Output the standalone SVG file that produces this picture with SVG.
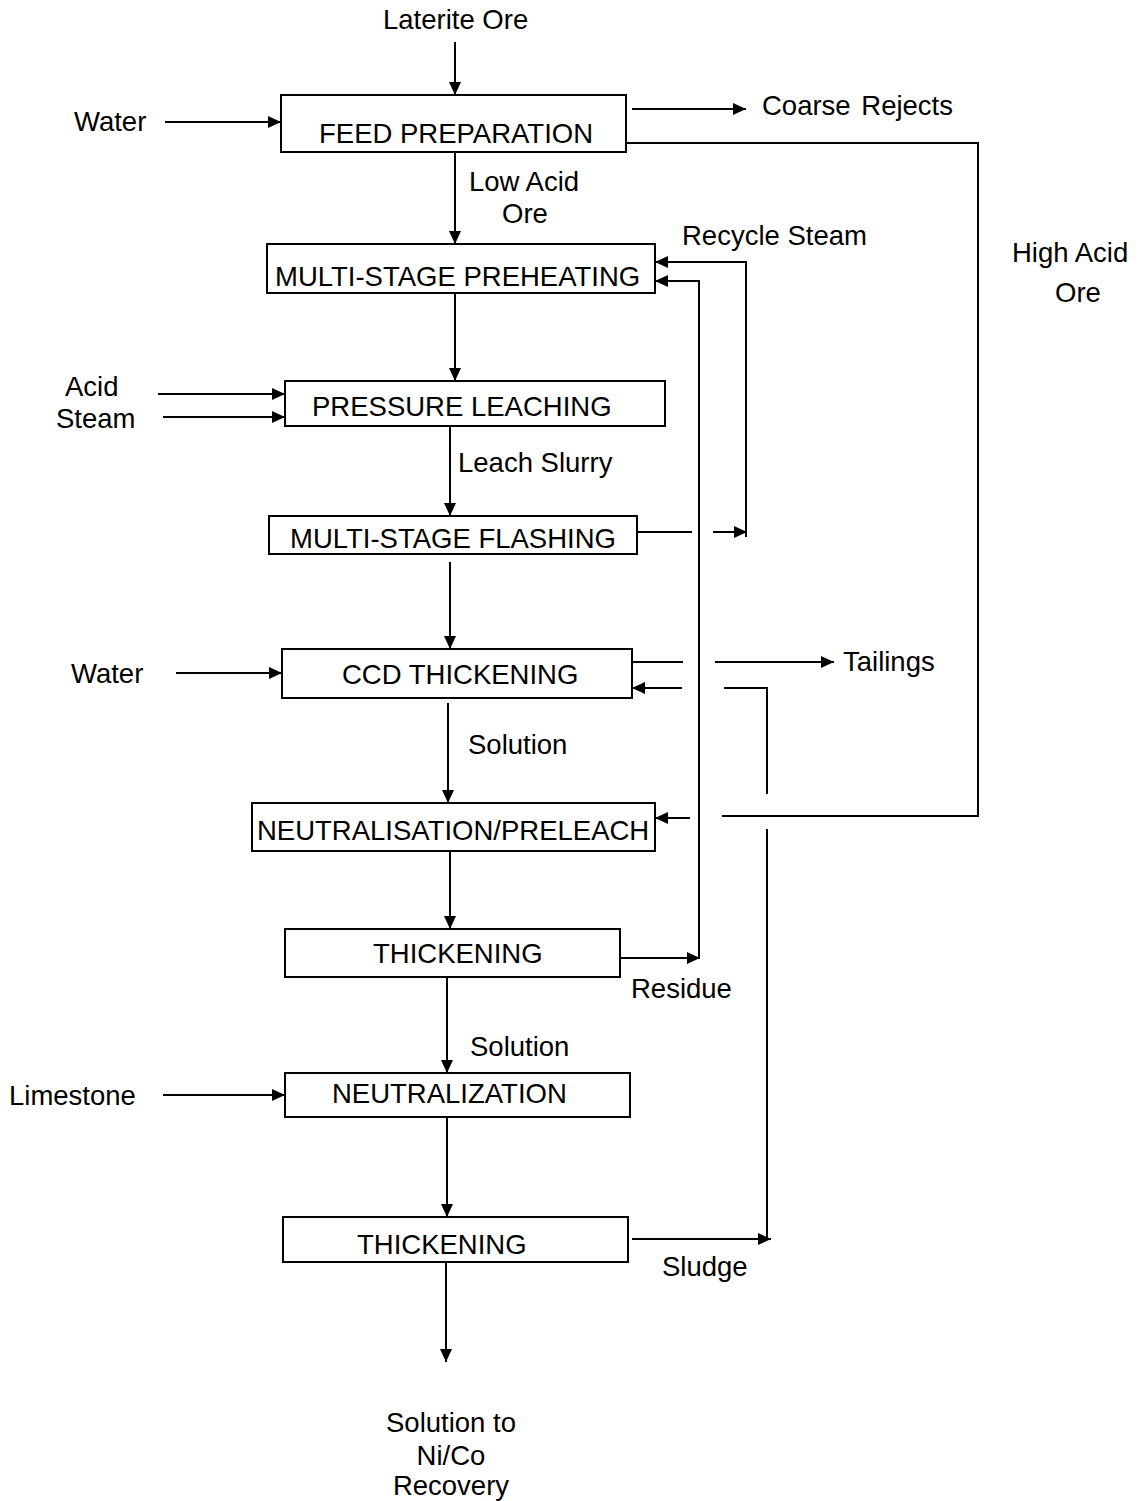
<svg xmlns="http://www.w3.org/2000/svg" width="1138" height="1501" viewBox="0 0 1138 1501">
<style>
text{font-family:"Liberation Sans",Arial,sans-serif;font-size:27.5px;fill:#000}
.box{fill:#fff;stroke:#000;stroke-width:2}
.ln{fill:none;stroke:#000;stroke-width:2}
.mid{text-anchor:middle}
</style>
<defs>
<marker id="ah" markerUnits="userSpaceOnUse" markerWidth="13" markerHeight="12" refX="13" refY="6" orient="auto">
<path d="M0,0 L13,6 L0,12 z" fill="#000"/>
</marker>
</defs>
<rect width="1138" height="1501" fill="#fff"/>
<g id="connectors">
<path class="ln" d="M455,42 V95" marker-end="url(#ah)"/>
<path class="ln" d="M165,122 H281" marker-end="url(#ah)"/>
<path class="ln" d="M632,109 H746" marker-end="url(#ah)"/>
<path class="ln" d="M627,143 H978 V816 H722"/>
<path class="ln" d="M455,153 V244" marker-end="url(#ah)"/>
<path class="ln" d="M746,537 V262 H655" marker-end="url(#ah)"/>
<path class="ln" d="M699,958 V281 H655" marker-end="url(#ah)"/>
<path class="ln" d="M158,394 H285" marker-end="url(#ah)"/>
<path class="ln" d="M163,417 H285" marker-end="url(#ah)"/>
<path class="ln" d="M455,293 V381" marker-end="url(#ah)"/>
<path class="ln" d="M450,427 V516" marker-end="url(#ah)"/>
<path class="ln" d="M638,532 H692"/>
<path class="ln" d="M713,532 H747" marker-end="url(#ah)"/>
<path class="ln" d="M450,562 V649" marker-end="url(#ah)"/>
<path class="ln" d="M176,673 H282" marker-end="url(#ah)"/>
<path class="ln" d="M633,662 H683"/>
<path class="ln" d="M715,662 H834" marker-end="url(#ah)"/>
<path class="ln" d="M682,688 H632" marker-end="url(#ah)"/>
<path class="ln" d="M724,688 H767 V794"/>
<path class="ln" d="M767,829 V1239"/>
<path class="ln" d="M448,703 V803" marker-end="url(#ah)"/>
<path class="ln" d="M690,818 H655" marker-end="url(#ah)"/>
<path class="ln" d="M450,851 V929" marker-end="url(#ah)"/>
<path class="ln" d="M621,958 H700" marker-end="url(#ah)"/>
<path class="ln" d="M447,977 V1073" marker-end="url(#ah)"/>
<path class="ln" d="M163,1095 H285" marker-end="url(#ah)"/>
<path class="ln" d="M447,1117 V1217" marker-end="url(#ah)"/>
<path class="ln" d="M632,1239 H771" marker-end="url(#ah)"/>
<path class="ln" d="M446,1262 V1362" marker-end="url(#ah)"/>
</g>
<g id="labels">
<text x="383" y="29">Laterite Ore</text>
<text x="74" y="131">Water</text>
<text x="762" y="115" word-spacing="3">Coarse Rejects</text>
<text x="469" y="191">Low Acid</text>
<text x="502" y="223">Ore</text>
<text x="682" y="245">Recycle Steam</text>
<text x="1012" y="262">High Acid</text>
<text x="1055" y="302">Ore</text>
<text x="65" y="396">Acid</text>
<text x="56" y="428">Steam</text>
<text x="458" y="472">Leach Slurry</text>
<text x="71" y="683">Water</text>
<text x="843" y="671">Tailings</text>
<text x="468" y="754">Solution</text>
<text x="631" y="998">Residue</text>
<text x="470" y="1056">Solution</text>
<text x="9" y="1105">Limestone</text>
<text x="662" y="1276">Sludge</text>
<text class="mid" x="451" y="1432">Solution to</text>
<text class="mid" x="451" y="1465">Ni/Co</text>
<text class="mid" x="451" y="1495">Recovery</text>
</g>
<g id="feed-preparation"><rect class="box" x="281" y="95" width="345" height="57"/><text x="319" y="143">FEED PREPARATION</text></g>
<g id="multi-stage-preheating"><rect class="box" x="267" y="244" width="388" height="49"/><text x="275" y="286">MULTI-STAGE PREHEATING</text></g>
<g id="pressure-leaching"><rect class="box" x="285" y="381" width="380" height="45"/><text x="312" y="416">PRESSURE LEACHING</text></g>
<g id="multi-stage-flashing"><rect class="box" x="269" y="516" width="368" height="38"/><text x="290" y="548">MULTI-STAGE FLASHING</text></g>
<g id="ccd-thickening"><rect class="box" x="282" y="649" width="350" height="49"/><text x="342" y="684">CCD THICKENING</text></g>
<g id="neutralisation-preleach"><rect class="box" x="252" y="803" width="403" height="48"/><text x="257" y="840">NEUTRALISATION/PRELEACH</text></g>
<g id="thickening-1"><rect class="box" x="285" y="929" width="335" height="48"/><text x="373" y="963">THICKENING</text></g>
<g id="neutralization"><rect class="box" x="285" y="1073" width="345" height="44"/><text x="332" y="1103">NEUTRALIZATION</text></g>
<g id="thickening-2"><rect class="box" x="283" y="1217" width="345" height="45"/><text x="357" y="1254">THICKENING</text></g>
</svg>
